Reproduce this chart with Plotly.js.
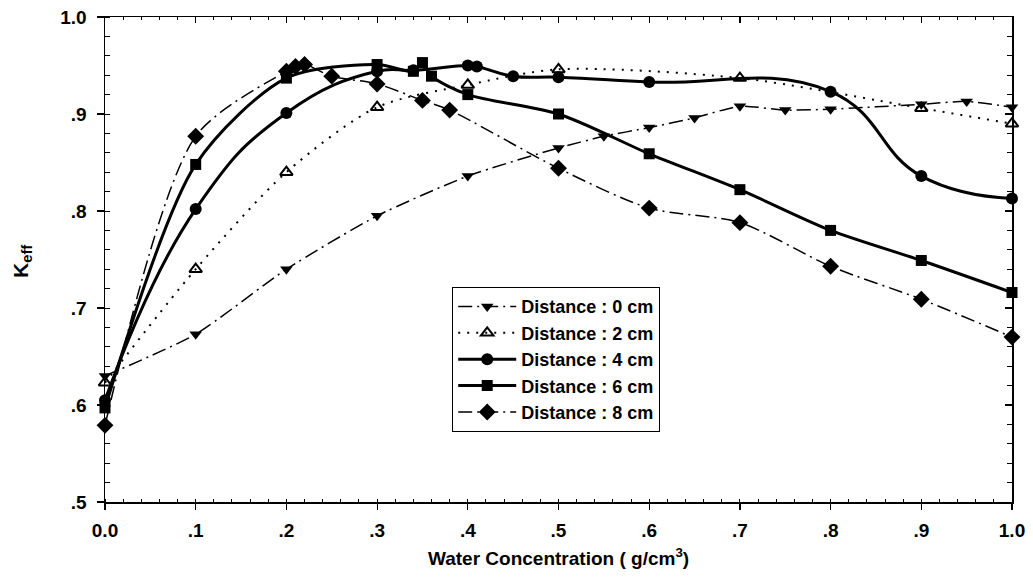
<!DOCTYPE html>
<html>
<head>
<meta charset="utf-8">
<script src="https://cdn.plot.ly/plotly-3.0.1.min.js"></script>
<style>html,body{margin:0;padding:0;background:#fff;}#chart{width:1033px;height:586px;}</style>
</head>
<body>
<div id="chart"></div>
<script>
// Data
var seriesNames = ["Distance : 0 cm", "Distance : 2 cm", "Distance : 4 cm", "Distance : 6 cm", "Distance : 8 cm"];

var x0 = [0, 0.1, 0.2, 0.3, 0.4, 0.5, 0.55, 0.6, 0.65, 0.7, 0.75, 0.8, 0.9, 0.95, 1.0];
var y0 = [0.630, 0.673, 0.740, 0.795, 0.836, 0.865, 0.877, 0.886, 0.896, 0.908, 0.904, 0.905, 0.910, 0.913, 0.907];

var x2 = [0, 0.1, 0.2, 0.3, 0.4, 0.5, 0.7, 0.9, 1.0];
var y2 = [0.623, 0.740, 0.840, 0.907, 0.930, 0.946, 0.937, 0.906, 0.890];

var x4 = [0, 0.1, 0.2, 0.3, 0.34, 0.4, 0.41, 0.45, 0.5, 0.6, 0.8, 0.9, 1.0];
var y4 = [0.605, 0.802, 0.901, 0.944, 0.945, 0.950, 0.949, 0.939, 0.938, 0.933, 0.923, 0.836, 0.813];

var x6 = [0, 0.1, 0.2, 0.3, 0.34, 0.35, 0.36, 0.4, 0.5, 0.6, 0.7, 0.8, 0.9, 1.0];
var y6 = [0.597, 0.848, 0.937, 0.951, 0.944, 0.953, 0.939, 0.920, 0.900, 0.859, 0.822, 0.780, 0.749, 0.716];

var x8 = [0, 0.1, 0.2, 0.21, 0.22, 0.25, 0.3, 0.35, 0.38, 0.5, 0.6, 0.7, 0.8, 0.9, 1.0];
var y8 = [0.579, 0.877, 0.944, 0.949, 0.951, 0.939, 0.931, 0.914, 0.904, 0.844, 0.803, 0.788, 0.743, 0.709, 0.670];

var xTickVals = [0, 0.1, 0.2, 0.3, 0.4, 0.5, 0.6, 0.7, 0.8, 0.9, 1.0];
var xTickText = ["0.0", ".1", ".2", ".3", ".4", ".5", ".6", ".7", ".8", ".9", "1.0"];
var yTickVals = [0.5, 0.6, 0.7, 0.8, 0.9, 1.0];
var yTickText = [".5", ".6", ".7", ".8", ".9", "1.0"];

var FONT = "Liberation Sans, Arial, sans-serif";

var traces = [
  {x: x0, y: y0, name: seriesNames[0], mode: "lines+markers", cliponaxis: false,
   line: {color: "#000", width: 1.5, dash: "14px,5px,2px,5px", shape: "spline", smoothing: 0.6},
   marker: {symbol: "triangle-down", size: 11, color: "#000"}},
  {x: x2, y: y2, name: seriesNames[1], mode: "lines+markers", cliponaxis: false,
   line: {color: "#000", width: 2, dash: "2px,7px", shape: "spline", smoothing: 0.8},
   marker: {symbol: "triangle-up-open", size: 11, color: "#000", line: {width: 2, color: "#000"}}},
  {x: x4, y: y4, name: seriesNames[2], mode: "lines+markers", cliponaxis: false,
   line: {color: "#000", width: 3, shape: "spline", smoothing: 1.3},
   marker: {symbol: "circle", size: 12, color: "#000"}},
  {x: x6, y: y6, name: seriesNames[3], mode: "lines+markers", cliponaxis: false,
   line: {color: "#000", width: 3, shape: "spline", smoothing: 0.8},
   marker: {symbol: "square", size: 11, color: "#000"}},
  {x: x8, y: y8, name: seriesNames[4], mode: "lines+markers", cliponaxis: false,
   line: {color: "#000", width: 1.5, dash: "14px,5px,2px,5px", shape: "spline", smoothing: 0.8},
   marker: {symbol: "diamond", size: 13, color: "#000"}},
  {x: [0.5], y: [0.75], xaxis: "x2", yaxis: "y2", mode: "markers", showlegend: false,
   hoverinfo: "skip", marker: {opacity: 0}}
];

var layout = {
  width: 1033, height: 586,
  margin: {l: 105, r: 21, t: 17, b: 84},
  paper_bgcolor: "#fff", plot_bgcolor: "#fff",
  font: {family: FONT, color: "#000"},
  showlegend: true,
  legend: {
    x: 0.3826, y: 0.4433, xanchor: "left", yanchor: "top",
    bordercolor: "#000", borderwidth: 1.2, bgcolor: "#fff",
    font: {family: FONT, size: 18, color: "#000", weight: "bold"},
    itemwidth: 58
  },
  xaxis: {
    range: [0, 1], tickvals: xTickVals, ticktext: xTickText,
    ticks: "outside", ticklen: 6, tickwidth: 1.2, tickcolor: "#000",
    showline: true, linecolor: "#000", linewidth: 1.5,
    showgrid: false, zeroline: false,
    tickfont: {family: FONT, size: 19, color: "#000", weight: "bold"},
    ticklabelstandoff: 5,
    minor: {ticks: "inside", dtick: 0.02, ticklen: 3, tickcolor: "#000", tickwidth: 1, showgrid: false}
  },
  yaxis: {
    range: [0.5, 1.0], tickvals: yTickVals, ticktext: yTickText,
    ticks: "outside", ticklen: 7, tickwidth: 1.2, tickcolor: "#000",
    showline: true, linecolor: "#000", linewidth: 1.5,
    showgrid: false, zeroline: false,
    tickfont: {family: FONT, size: 19, color: "#000", weight: "bold"},
    ticklabelstandoff: 6,
    minor: {ticks: "inside", dtick: 0.02, ticklen: 5, tickcolor: "#000", tickwidth: 1, showgrid: false}
  },
  xaxis2: {
    overlaying: "x", side: "top", range: [0, 1], tickvals: xTickVals,
    showticklabels: false, ticks: "inside", ticklen: 6, tickcolor: "#000", tickwidth: 1.2,
    showline: true, linecolor: "#000", linewidth: 1.5, showgrid: false, zeroline: false,
    minor: {ticks: "inside", dtick: 0.02, ticklen: 3, tickcolor: "#000", tickwidth: 1, showgrid: false}
  },
  yaxis2: {
    overlaying: "y", side: "right", range: [0.5, 1.0], tickvals: yTickVals,
    showticklabels: false, ticks: "inside", ticklen: 7, tickcolor: "#000", tickwidth: 1.2,
    showline: true, linecolor: "#000", linewidth: 1.5, showgrid: false, zeroline: false,
    minor: {ticks: "inside", dtick: 0.02, ticklen: 5, tickcolor: "#000", tickwidth: 1, showgrid: false}
  },
  annotations: [
    {text: "K<sub>eff</sub>", xref: "paper", yref: "paper", x: -0.0915, y: 0.495,
     xanchor: "center", yanchor: "middle", textangle: -90, showarrow: false,
     font: {family: FONT, size: 21, color: "#000", weight: "bold"}},
    {text: "Water Concentration ( g/cm<sup>3</sup>)", xref: "paper", yref: "paper", x: 0.5, y: -0.113,
     xanchor: "center", yanchor: "middle", showarrow: false,
     font: {family: FONT, size: 19, color: "#000", weight: "bold"}}
  ]
};

Plotly.newPlot("chart", traces, layout, {displayModeBar: false, staticPlot: true});
</script>
</body>
</html>
